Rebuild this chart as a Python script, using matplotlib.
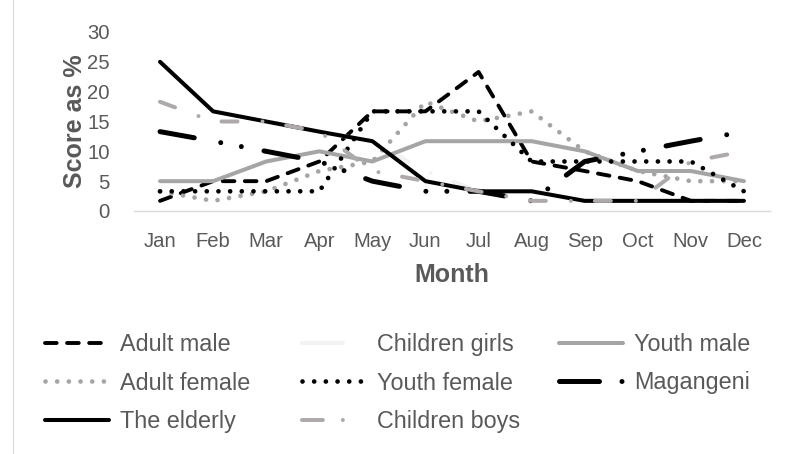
import matplotlib
matplotlib.use('Agg')
import matplotlib.pyplot as plt
from matplotlib.lines import Line2D

plt.rcParams['font.family'] = ['Liberation Sans', 'DejaVu Sans']
plt.rcParams['lines.scale_dashes'] = False

months = ['Jan', 'Feb', 'Mar', 'Apr', 'May', 'Jun', 'Jul', 'Aug', 'Sep', 'Oct', 'Nov', 'Dec']
adult_male = [1.7, 5, 5, 8.3, 16.7, 16.7, 23.3, 8.3, 6.7, 5, 1.7, 1.7]
children_girls = [25, 16.7, 15, 13.3, 11.7, 6.7, 3.3, 3.3, 1.7, 1.7, 1.7, 1.7]
youth_male = [5, 5, 8.3, 10, 8.3, 11.7, 11.7, 11.7, 10, 6.7, 6.7, 5]
adult_female = [3.3, 1.7, 3.3, 6.7, 8.3, 18.3, 15, 16.7, 10, 6.7, 5, 5]
youth_female = [3.3, 3.3, 3.3, 3.3, 16.7, 16.7, 16.7, 8.3, 8.3, 8.3, 8.3, 3.3]
magangeni = [13.3, 11.7, 10, 8.3, 5, 3.3, 3.3, 1.7, 8.3, 10, 11.7, 13.3]
elderly = [25, 16.7, 15, 13.3, 11.7, 5, 3.3, 3.3, 1.7, 1.7, 1.7, 1.7]
children_boys = [18.3, 15, 15, 13.3, 6.7, 5, 3.3, 1.7, 1.7, 1.7, 8.3, 10]

y_ticks = [0, 5, 10, 15, 20, 25, 30]
x_label = 'Month'
y_label = 'Score as %'

TXT = '#595959'
W, H = 789, 454
fig = plt.figure(figsize=(W / 100, H / 100), dpi=100)
ax = fig.add_axes([133.5 / W, (H - 211) / H, 637 / W, 179 / H])

x = list(range(len(months)))

# label, values, color, lw(pt), plot dashes(pt), legend dashes(pt)
series = [
    ('Adult male', adult_male, '#000000', 2.8, (8.4, 7.5), (8.4, 7.5)),
    ('Children girls', children_girls, '#F2F2F2', 2.9, (11.5, 18, 0.01, 17.3), (29.5, 18, 0.01, 30)),
    ('Youth male', youth_male, '#A5A5A5', 2.9, None, None),
    ('Adult female', adult_female, '#A5A5A5', 3.4, (0.01, 8.4), (0.01, 8.4)),
    ('Youth female', youth_female, '#000000', 3.4, (0.01, 8.4), (0.01, 8.4)),
    ('Magangeni', magangeni, '#000000', 3.6, (25, 19.4, 0.01, 15.1, 0.01, 16.6), (28.8, 16.2, 0.01, 40)),
    ('The elderly', elderly, '#000000', 2.9, None, None),
    ('Children boys', children_boys, '#AEAAAA', 2.9, (11.5, 18, 0.01, 17.3), (15, 14.4, 0.01, 18, 0.01, 30)),
]

handles = {}
for label, vals, col, lw, dash, ldash in series:
    if dash is None:
        ax.plot(x, vals, color=col, lw=lw, solid_capstyle='round',
                solid_joinstyle='round', label=label)
        h = Line2D([], [], color=col, lw=lw, solid_capstyle='round')
    else:
        ln, = ax.plot(x, vals, color=col, lw=lw, dash_capstyle='round',
                      dash_joinstyle='round', label=label)
        ln.set_dashes(dash)
        h = Line2D([], [], color=col, lw=lw, dash_capstyle='round')
        h.set_dashes(ldash)
    handles[label] = h

ax.set_xlim(-0.5, len(months) - 0.5)
ax.set_ylim(0, 30)
ax.set_xticks(x)
ax.set_xticklabels(months)
ax.set_yticks(y_ticks)
for s in ['top', 'right', 'left']:
    ax.spines[s].set_visible(False)
ax.spines['bottom'].set_color('#D9D9D9')
ax.spines['bottom'].set_linewidth(1.0)
ax.tick_params(axis='both', length=0, colors=TXT, labelsize=14.6)
ax.tick_params(axis='y', pad=17)
ax.tick_params(axis='x', pad=15)

ax.set_xlabel(x_label, fontsize=18, fontweight='bold', color=TXT, va='center')
ax.set_ylabel(y_label, fontsize=18, fontweight='bold', color=TXT, va='center')
ax.xaxis.set_label_coords(0.5, (211 - 275) / 179)
ax.yaxis.set_label_coords((75 - 133.5) / 637, 0.5)

cols = [
    ['Adult male', 'Adult female', 'The elderly'],
    ['Children girls', 'Youth female', 'Children boys'],
    ['Youth male', 'Magangeni'],
]
col_x = [45, 302, 559]
for cx, names in zip(col_x, cols):
    cy = 383 if len(names) == 3 else 363.5
    leg = fig.legend([handles[n] for n in names], names, loc='center left',
                     bbox_to_anchor=(cx / W, (H - cy) / H), frameon=False,
                     fontsize=16.8, handlelength=2.75, handletextpad=0.45,
                     borderpad=0, borderaxespad=0, labelspacing=0.65)
    for t in leg.get_texts():
        t.set_color(TXT)

fig.add_artist(Line2D([13 / W, 13 / W], [0, 1], transform=fig.transFigure,
                      color='#D9D9D9', lw=0.8))

fig.savefig('out.png', dpi=100)
